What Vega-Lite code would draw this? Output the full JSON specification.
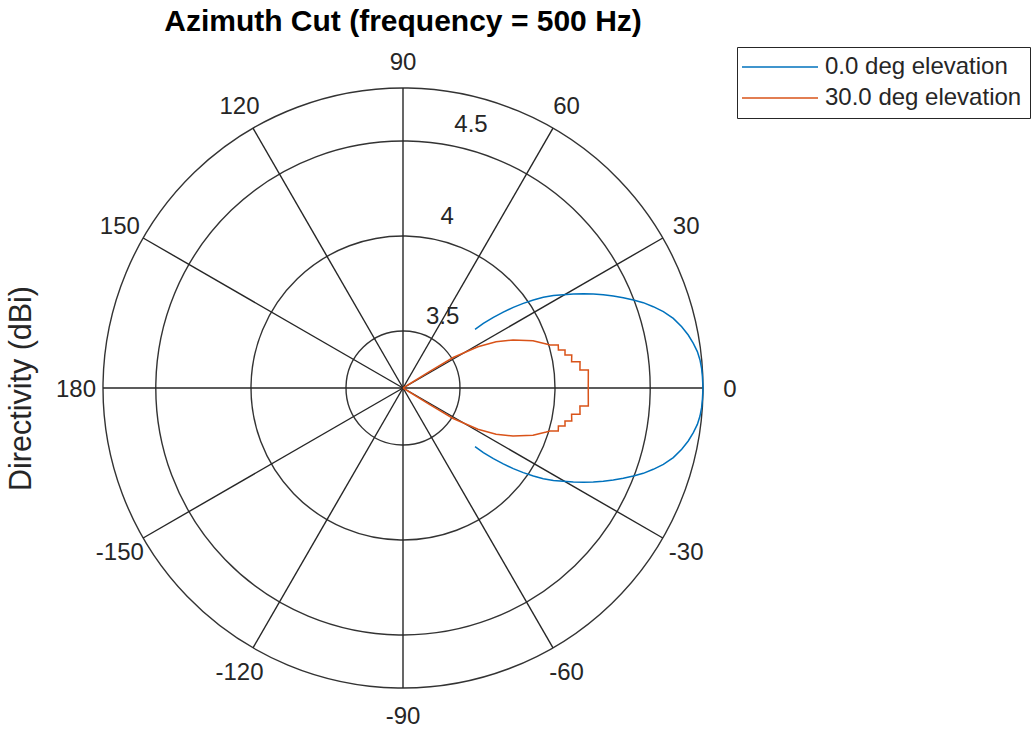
{
  "$schema": "https://vega.github.io/schema/vega-lite/v6.json",
  "width": 600,
  "height": 600,
  "autosize": {"type": "none"},
  "padding": {"left": 103, "top": 88, "right": 328, "bottom": 48},
  "background": "white",
  "config": {
    "view": {"stroke": null},
    "font": "Liberation Sans",
    "axisY": {"labels": false, "ticks": false, "domain": false, "grid": false, "titleFontSize": 30.5, "titleFontWeight": "normal", "titleColor": "#262626", "titlePadding": 67, "titleFont": "Liberation Sans"}
  },
  "title": {"text": "Azimuth Cut (frequency = 500 Hz)", "fontSize": 30, "fontWeight": "bold", "color": "#000000", "anchor": "middle", "offset": 10, "font": "Liberation Sans"},
  "datasets": {
    "pattern": [
      {"series": "0.0 deg elevation", "az": -39.17, "directivity": 3.689},
      {"series": "0.0 deg elevation", "az": -38.83, "directivity": 3.743},
      {"series": "0.0 deg elevation", "az": -38.04, "directivity": 3.804},
      {"series": "0.0 deg elevation", "az": -37.14, "directivity": 3.862},
      {"series": "0.0 deg elevation", "az": -36.17, "directivity": 3.919},
      {"series": "0.0 deg elevation", "az": -35.13, "directivity": 3.974},
      {"series": "0.0 deg elevation", "az": -34.03, "directivity": 4.028},
      {"series": "0.0 deg elevation", "az": -32.87, "directivity": 4.079},
      {"series": "0.0 deg elevation", "az": -31.56, "directivity": 4.129},
      {"series": "0.0 deg elevation", "az": -30.2, "directivity": 4.176},
      {"series": "0.0 deg elevation", "az": -28.89, "directivity": 4.224},
      {"series": "0.0 deg elevation", "az": -27.61, "directivity": 4.271},
      {"series": "0.0 deg elevation", "az": -26.28, "directivity": 4.317},
      {"series": "0.0 deg elevation", "az": -24.98, "directivity": 4.363},
      {"series": "0.0 deg elevation", "az": -23.63, "directivity": 4.408},
      {"series": "0.0 deg elevation", "az": -22.29, "directivity": 4.453},
      {"series": "0.0 deg elevation", "az": -20.91, "directivity": 4.498},
      {"series": "0.0 deg elevation", "az": -19.55, "directivity": 4.542},
      {"series": "0.0 deg elevation", "az": -18.0, "directivity": 4.585},
      {"series": "0.0 deg elevation", "az": -16.34, "directivity": 4.628},
      {"series": "0.0 deg elevation", "az": -14.45, "directivity": 4.669},
      {"series": "0.0 deg elevation", "az": -12.41, "directivity": 4.702},
      {"series": "0.0 deg elevation", "az": -10.52, "directivity": 4.727},
      {"series": "0.0 deg elevation", "az": -8.75, "directivity": 4.746},
      {"series": "0.0 deg elevation", "az": -7.04, "directivity": 4.761},
      {"series": "0.0 deg elevation", "az": -5.39, "directivity": 4.77},
      {"series": "0.0 deg elevation", "az": -3.77, "directivity": 4.775},
      {"series": "0.0 deg elevation", "az": -2.17, "directivity": 4.777},
      {"series": "0.0 deg elevation", "az": 0, "directivity": 4.779},
      {"series": "0.0 deg elevation", "az": 2.17, "directivity": 4.777},
      {"series": "0.0 deg elevation", "az": 3.77, "directivity": 4.775},
      {"series": "0.0 deg elevation", "az": 5.39, "directivity": 4.77},
      {"series": "0.0 deg elevation", "az": 7.04, "directivity": 4.761},
      {"series": "0.0 deg elevation", "az": 8.75, "directivity": 4.746},
      {"series": "0.0 deg elevation", "az": 10.52, "directivity": 4.727},
      {"series": "0.0 deg elevation", "az": 12.41, "directivity": 4.702},
      {"series": "0.0 deg elevation", "az": 14.45, "directivity": 4.669},
      {"series": "0.0 deg elevation", "az": 16.34, "directivity": 4.628},
      {"series": "0.0 deg elevation", "az": 18.0, "directivity": 4.585},
      {"series": "0.0 deg elevation", "az": 19.55, "directivity": 4.542},
      {"series": "0.0 deg elevation", "az": 20.91, "directivity": 4.498},
      {"series": "0.0 deg elevation", "az": 22.29, "directivity": 4.453},
      {"series": "0.0 deg elevation", "az": 23.63, "directivity": 4.408},
      {"series": "0.0 deg elevation", "az": 24.98, "directivity": 4.363},
      {"series": "0.0 deg elevation", "az": 26.28, "directivity": 4.317},
      {"series": "0.0 deg elevation", "az": 27.61, "directivity": 4.271},
      {"series": "0.0 deg elevation", "az": 28.89, "directivity": 4.224},
      {"series": "0.0 deg elevation", "az": 30.2, "directivity": 4.176},
      {"series": "0.0 deg elevation", "az": 31.56, "directivity": 4.129},
      {"series": "0.0 deg elevation", "az": 32.87, "directivity": 4.079},
      {"series": "0.0 deg elevation", "az": 34.03, "directivity": 4.028},
      {"series": "0.0 deg elevation", "az": 35.13, "directivity": 3.974},
      {"series": "0.0 deg elevation", "az": 36.17, "directivity": 3.919},
      {"series": "0.0 deg elevation", "az": 37.14, "directivity": 3.862},
      {"series": "0.0 deg elevation", "az": 38.04, "directivity": 3.804},
      {"series": "0.0 deg elevation", "az": 38.83, "directivity": 3.743},
      {"series": "0.0 deg elevation", "az": 39.17, "directivity": 3.689},
      {"series": "30.0 deg elevation", "az": -40, "directivity": 3.2},
      {"series": "30.0 deg elevation", "az": -32.5, "directivity": 3.2},
      {"series": "30.0 deg elevation", "az": -31.8, "directivity": 3.366},
      {"series": "30.0 deg elevation", "az": -31.3, "directivity": 3.509},
      {"series": "30.0 deg elevation", "az": -28.8, "directivity": 3.65},
      {"series": "30.0 deg elevation", "az": -26.4, "directivity": 3.747},
      {"series": "30.0 deg elevation", "az": -23.6, "directivity": 3.832},
      {"series": "30.0 deg elevation", "az": -20, "directivity": 3.928},
      {"series": "30.0 deg elevation", "az": -17.1, "directivity": 3.989},
      {"series": "30.0 deg elevation", "az": -16.3, "directivity": 4.006},
      {"series": "30.0 deg elevation", "az": -15.48, "directivity": 4.048},
      {"series": "30.0 deg elevation", "az": -13.75, "directivity": 4.042},
      {"series": "30.0 deg elevation", "az": -13.2, "directivity": 4.076},
      {"series": "30.0 deg elevation", "az": -11.51, "directivity": 4.07},
      {"series": "30.0 deg elevation", "az": -11.07, "directivity": 4.105},
      {"series": "30.0 deg elevation", "az": -8.86, "directivity": 4.098},
      {"series": "30.0 deg elevation", "az": -8.45, "directivity": 4.142},
      {"series": "30.0 deg elevation", "az": -5.81, "directivity": 4.136},
      {"series": "30.0 deg elevation", "az": -5.55, "directivity": 4.18},
      {"series": "30.0 deg elevation", "az": 0, "directivity": 4.175},
      {"series": "30.0 deg elevation", "az": 5.55, "directivity": 4.18},
      {"series": "30.0 deg elevation", "az": 5.81, "directivity": 4.136},
      {"series": "30.0 deg elevation", "az": 8.45, "directivity": 4.142},
      {"series": "30.0 deg elevation", "az": 8.86, "directivity": 4.098},
      {"series": "30.0 deg elevation", "az": 11.07, "directivity": 4.105},
      {"series": "30.0 deg elevation", "az": 11.51, "directivity": 4.07},
      {"series": "30.0 deg elevation", "az": 13.2, "directivity": 4.076},
      {"series": "30.0 deg elevation", "az": 13.75, "directivity": 4.042},
      {"series": "30.0 deg elevation", "az": 15.48, "directivity": 4.048},
      {"series": "30.0 deg elevation", "az": 16.3, "directivity": 4.006},
      {"series": "30.0 deg elevation", "az": 17.1, "directivity": 3.989},
      {"series": "30.0 deg elevation", "az": 20, "directivity": 3.928},
      {"series": "30.0 deg elevation", "az": 23.6, "directivity": 3.832},
      {"series": "30.0 deg elevation", "az": 26.4, "directivity": 3.747},
      {"series": "30.0 deg elevation", "az": 28.8, "directivity": 3.65},
      {"series": "30.0 deg elevation", "az": 31.3, "directivity": 3.509},
      {"series": "30.0 deg elevation", "az": 31.8, "directivity": 3.366},
      {"series": "30.0 deg elevation", "az": 32.5, "directivity": 3.2},
      {"series": "30.0 deg elevation", "az": 40, "directivity": 3.2}
    ],
    "rings": [{"level": 3.5}, {"level": 4.0}, {"level": 4.5}, {"level": 4.778947}],
    "spokes": [{"angle": 0}, {"angle": 30}, {"angle": 60}, {"angle": 90}, {"angle": 120}, {"angle": 150}, {"angle": 180}, {"angle": 210}, {"angle": 240}, {"angle": 270}, {"angle": 300}, {"angle": 330}],
    "angleLabels": [{"angle": 0}, {"angle": 30}, {"angle": 60}, {"angle": 90}, {"angle": 120}, {"angle": 150}, {"angle": 180}, {"angle": -150}, {"angle": -120}, {"angle": -90}, {"angle": -60}, {"angle": -30}],
    "ringLabels": [{"level": 3.5, "az": 61}, {"level": 4.0, "az": 75.5}, {"level": 4.5, "az": 75.5}]
  },
  "layer": [
    {
      "data": {"name": "rings"},
      "transform": [{"calculate": "datum.level - 3.2", "as": "rr"}],
      "mark": {"type": "arc", "filled": false, "stroke": "#333333", "strokeWidth": 1.4},
      "encoding": {
        "theta": {"datum": 1, "type": "quantitative", "stack": null, "scale": {"domain": [0, 1], "range": [0, 6.3]}},
        "theta2": {"datum": 0},
        "radius": {"field": "rr", "type": "quantitative", "stack": null, "scale": {"type": "linear", "domain": [0, 1.578947], "range": [0, 300], "zero": true, "nice": false}}
      }
    },
    {
      "data": {"name": "spokes"},
      "transform": [
        {"calculate": "1.578947 * cos(datum.angle * PI / 180)", "as": "sx"},
        {"calculate": "1.578947 * sin(datum.angle * PI / 180)", "as": "sy"},
        {"calculate": "0", "as": "ox"}
      ],
      "mark": {"type": "rule", "stroke": "#262626", "strokeWidth": 1.4},
      "encoding": {
        "x": {"field": "ox", "type": "quantitative", "scale": {"domain": [-1.578947, 1.578947], "nice": false, "zero": false}, "axis": null},
        "y": {"field": "ox", "type": "quantitative", "scale": {"domain": [-1.578947, 1.578947], "nice": false, "zero": false}, "title": "Directivity (dBi)"},
        "x2": {"field": "sx"},
        "y2": {"field": "sy"}
      }
    },
    {
      "data": {"name": "angleLabels"},
      "transform": [
        {"calculate": "1.721 * cos(datum.angle * PI / 180)", "as": "lx"},
        {"calculate": "1.721 * sin(datum.angle * PI / 180)", "as": "ly"},
        {"calculate": "'' + datum.angle", "as": "label"}
      ],
      "mark": {"type": "text", "fontSize": 24, "color": "#262626", "align": "center", "baseline": "middle", "dy": 2, "font": "Liberation Sans"},
      "encoding": {
        "x": {"field": "lx", "type": "quantitative", "scale": {"domain": [-1.578947, 1.578947], "nice": false, "zero": false}, "axis": null},
        "y": {"field": "ly", "type": "quantitative", "scale": {"domain": [-1.578947, 1.578947], "nice": false, "zero": false}, "title": "Directivity (dBi)"},
        "text": {"field": "label", "type": "nominal"}
      }
    },
    {
      "data": {"name": "ringLabels"},
      "transform": [
        {"calculate": "(datum.level - 3.2 + 0.13) * cos(datum.az * PI / 180)", "as": "lx"},
        {"calculate": "(datum.level - 3.2 + 0.13) * sin(datum.az * PI / 180)", "as": "ly"}
      ],
      "mark": {"type": "text", "fontSize": 24, "color": "#262626", "align": "center", "baseline": "middle", "font": "Liberation Sans"},
      "encoding": {
        "x": {"field": "lx", "type": "quantitative", "scale": {"domain": [-1.578947, 1.578947], "nice": false, "zero": false}, "axis": null},
        "y": {"field": "ly", "type": "quantitative", "scale": {"domain": [-1.578947, 1.578947], "nice": false, "zero": false}, "title": "Directivity (dBi)"},
        "text": {"field": "level", "type": "quantitative", "format": "~g"}
      }
    },
    {
      "data": {"name": "pattern"},
      "transform": [
        {"window": [{"op": "row_number", "as": "idx"}]},
        {"calculate": "max(datum.directivity - 3.2, 0)", "as": "r"},
        {"calculate": "datum.r * cos(datum.az * PI / 180)", "as": "px"},
        {"calculate": "datum.r * sin(datum.az * PI / 180)", "as": "py"}
      ],
      "mark": {"type": "line", "strokeWidth": 1.5},
      "encoding": {
        "x": {"field": "px", "type": "quantitative", "scale": {"domain": [-1.578947, 1.578947], "nice": false, "zero": false}, "axis": null},
        "y": {"field": "py", "type": "quantitative", "scale": {"domain": [-1.578947, 1.578947], "nice": false, "zero": false}, "title": "Directivity (dBi)"},
        "order": {"field": "idx", "type": "quantitative"},
        "color": {
          "field": "series",
          "type": "nominal",
          "scale": {"domain": ["0.0 deg elevation", "30.0 deg elevation"], "range": ["#0072BD", "#D95319"]},
          "legend": {
            "title": null,
            "orient": "none",
            "legendX": 634,
            "legendY": -41,
            "symbolType": "M-3.8,0H3.8",
            "symbolSize": 400,
            "symbolStrokeWidth": 1.5,
            "labelFontSize": 24,
            "labelFont": "Liberation Sans",
            "labelColor": "#262626",
            "labelLimit": 400,
            "strokeColor": "#262626",
            "fillColor": "white",
            "padding": 8,
            "rowPadding": 7,
            "symbolOffset": 23,
            "labelOffset": 33
          }
        }
      }
    }
  ]
}
